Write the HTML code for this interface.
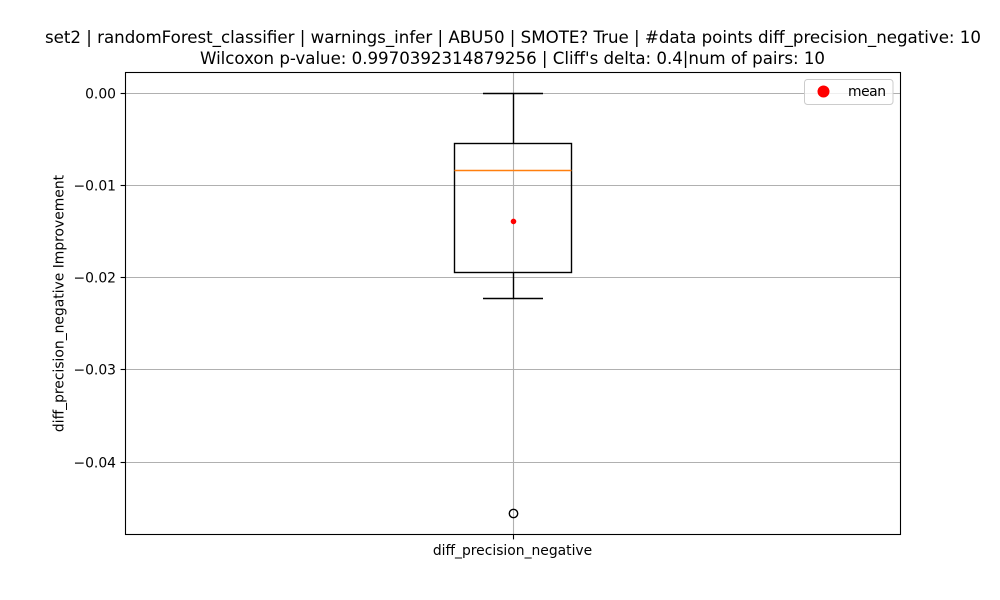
<!DOCTYPE html>
<html lang="en">
<head>
<meta charset="utf-8">
<title>Box plot</title>
<style>
html,body{margin:0;padding:0;background:#fff;}
svg{display:block;}
text{font-family:"DejaVu Sans",sans-serif;fill:#000;}
</style>
</head>
<body>
<svg id="chart" xmlns="http://www.w3.org/2000/svg" width="1000" height="600" viewBox="0 0 1000 600">
  <rect x="0" y="0" width="1000" height="600" fill="#fff"/>
  <text x="513" y="43" font-size="16.67" text-anchor="middle" textLength="936" lengthAdjust="spacing">set2 | randomForest_classifier | warnings_infer | ABU50 | SMOTE? True | #data points diff_precision_negative: 10</text>
  <text x="512.5" y="64" font-size="16.67" text-anchor="middle" textLength="625" lengthAdjust="spacing">Wilcoxon p-value: 0.9970392314879256 | Cliff's delta: 0.4|num of pairs: 10</text>
  <g id="grid"></g>
  <g id="marks"></g>
  <rect x="125.5" y="72.5" width="775" height="462" fill="none" stroke="#000" stroke-width="1.1"/>
  <g id="ticks"></g>
  <text transform="translate(63.5,303.5) rotate(-90)" font-size="13.89" text-anchor="middle">diff_precision_negative Improvement</text>
  <g>
    <rect x="804.5" y="79.5" width="88.5" height="25" rx="3" fill="#fff" fill-opacity="0.8" stroke="#ccc" stroke-width="1"/>
    <circle cx="823.5" cy="91.5" r="6" fill="#f00"/>
    <text x="848" y="96" font-size="13.89" textLength="38" lengthAdjust="spacing">mean</text>
  </g>
</svg>
<script>
const categories = ["diff_precision_negative"];
const yTickValues = [0, -0.01, -0.02, -0.03, -0.04];
const yTickLabels = ["0.00", "\u22120.01", "\u22120.02", "\u22120.03", "\u22120.04"];
const whiskerHigh = [0];
const q3Values = [-0.00545];
const medians = [-0.00838];
const q1Values = [-0.01943];
const whiskerLow = [-0.02225];
const means = [-0.0139];
const outliers = [[-0.04556]];

const NS = "http://www.w3.org/2000/svg";
const plot = { left: 125.5, right: 900.5, top: 72.5, bottom: 534.5 };
const yDomainZeroPixel = 93.2;
const yPixelsPerUnit = 9225;
function yScale(v) { return yDomainZeroPixel - v * yPixelsPerUnit; }
function xScale(i) {
  const step = (plot.right - plot.left) / categories.length;
  return plot.left + step * (i + 0.5);
}
function snap(p) { return Math.floor(p) + 0.5; }
function make(parent, tag, attrs) {
  const el = document.createElementNS(NS, tag);
  for (const k in attrs) el.setAttribute(k, attrs[k]);
  parent.appendChild(el);
  return el;
}
const gridG = document.getElementById("grid");
const marksG = document.getElementById("marks");
const ticksG = document.getElementById("ticks");

yTickValues.forEach(function (v, i) {
  const y = snap(yScale(v));
  const g = make(gridG, "line", { x1: plot.left, x2: plot.right, y1: y, y2: y, stroke: "#b0b0b0", "stroke-width": 1.1 });
  
  
  const t = make(ticksG, "line", { x1: plot.left - 4.9, x2: plot.left, y1: y, y2: y, stroke: "#000", "stroke-width": 1.1 });
  
  
  const l = make(ticksG, "text", { x: plot.left - 9.5, y: y + 5, "font-size": 13.89, "text-anchor": "end" });
  
  
  l.textContent = yTickLabels[i];
});

categories.forEach(function (c, i) {
  const x = xScale(i);
  const xs = snap(x);
  const boxHalf = 58.5;
  const capHalf = 30;
  const stroke = { stroke: "#000", "stroke-width": 1.4, fill: "none" };

  const vg = make(gridG, "line", { x1: xs, x2: xs, y1: plot.top, y2: plot.bottom, stroke: "#b0b0b0", "stroke-width": 1.1 });
  
  

  const wu = make(marksG, "line", Object.assign({ x1: xs, x2: xs, y1: snap(yScale(q3Values[i])), y2: snap(yScale(whiskerHigh[i])) }, stroke));
  
  
  const wl = make(marksG, "line", Object.assign({ x1: xs, x2: xs, y1: snap(yScale(q1Values[i])), y2: snap(yScale(whiskerLow[i])) }, stroke));
  
  
  const cu = make(marksG, "line", Object.assign({ x1: x - capHalf, x2: x + capHalf, y1: snap(yScale(whiskerHigh[i])), y2: snap(yScale(whiskerHigh[i])) }, stroke));
  
  
  const cl = make(marksG, "line", Object.assign({ x1: x - capHalf, x2: x + capHalf, y1: snap(yScale(whiskerLow[i])), y2: snap(yScale(whiskerLow[i])) }, stroke));
  
  

  const boxTop = snap(yScale(q3Values[i]));
  const boxBottom = snap(yScale(q1Values[i]));
  const box = make(marksG, "rect", Object.assign({ x: snap(x - boxHalf), width: boxHalf * 2, y: boxTop, height: boxBottom - boxTop }, stroke));
  
  

  const medY = snap(yScale(medians[i]));
  const med = make(marksG, "line", { x1: snap(x - boxHalf), x2: snap(x - boxHalf) + boxHalf * 2, y1: medY, y2: medY, stroke: "#ff7f0e", "stroke-width": 1.4 });
  
  

  const mean = make(marksG, "circle", { cx: xs, cy: yScale(means[i]), r: 2.8, fill: "#f00" });
  
  

  outliers[i].forEach(function (o) {
    const p = make(marksG, "circle", { cx: xs, cy: yScale(o), r: 4.2, fill: "none", stroke: "#000", "stroke-width": 1.4 });
    
    
  });

  const tk = make(ticksG, "line", { x1: xs, x2: xs, y1: plot.bottom, y2: plot.bottom + 4.9, stroke: "#000", "stroke-width": 1.1 });
  
  
  const lb = make(ticksG, "text", { x: x - 0.5, y: plot.bottom + 20.5, "font-size": 13.89, "text-anchor": "middle" });
  
  
  lb.textContent = c;
});
</script>
</body>
</html>
